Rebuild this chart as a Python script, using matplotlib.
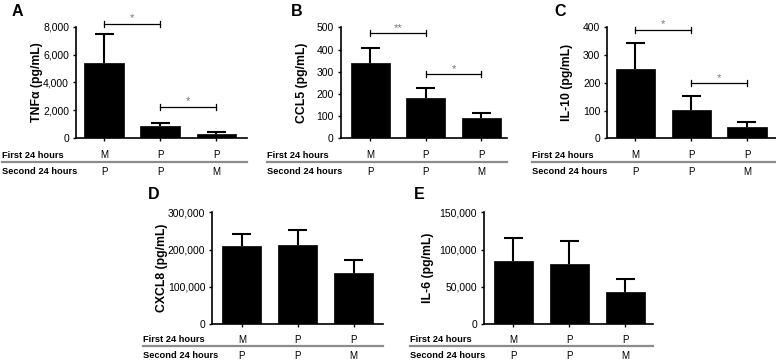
import matplotlib
matplotlib.use("Agg")
import matplotlib.pyplot as plt
from matplotlib.ticker import FuncFormatter
from matplotlib.transforms import blended_transform_factory, offset_copy

plt.rcParams['font.family'] = ['Liberation Sans', 'DejaVu Sans']

W, H = 776, 360

first_24 = ["M", "P", "P"]
second_24 = ["P", "P", "M"]

tnfa = [5370, 840, 310]
tnfa_err = [2100, 260, 100]
ccl5 = [339, 180, 93]
ccl5_err = [66, 48, 22]
il10 = [250, 102, 42]
il10_err = [95, 52, 17]
cxcl8 = [209500, 212000, 138000]
cxcl8_err = [31500, 41000, 34000]
il6 = [84600, 81000, 43400]
il6_err = [30400, 31000, 17000]

# brackets: (from bar, to bar, height, stars)
tnfa_sig = [(0, 1, 8200, "*"), (1, 2, 2250, "*")]
ccl5_sig = [(0, 1, 473, "**"), (1, 2, 288, "*")]
il10_sig = [(0, 1, 390, "*"), (1, 2, 198, "*")]

fig = plt.figure(figsize=(W / 100, H / 100), dpi=100)


def fx(px):
    return px / W


def fy(py):
    return 1 - py / H


def panel(letter, letter_xy, vals, errs, ymax, yticks, ylabel, ylabel_x,
          box, xlim, table_x, rows_y, sig=()):
    x0, x1, ytop, yzero = box
    ax = fig.add_axes([fx(x0), fy(yzero), (x1 - x0) / W, (yzero - ytop) / H])
    xs = list(range(len(vals)))
    ax.bar(xs, vals, width=0.7, color="black", edgecolor="black",
           linewidth=0.5, zorder=2)
    # upper error bars only
    cap = 0.17
    for i, v, e in zip(xs, vals, errs):
        ax.plot([i, i], [v, v + e], color="black", lw=1.5, zorder=1,
                solid_capstyle="butt")
        ax.plot([i - cap, i + cap], [v + e, v + e], color="black", lw=1.5,
                zorder=1, solid_capstyle="butt")
    ax.set_ylim(0, ymax)
    ax.set_xlim(*xlim)
    ax.set_yticks(yticks)
    ax.yaxis.set_major_formatter(FuncFormatter(lambda v, p: f"{int(v):,}"))
    ax.set_xticks(xs)
    ax.set_xticklabels([])
    ax.tick_params(axis="both", direction="out", length=2.5, width=1,
                   labelsize=7.5, pad=2.5)
    for s in ["top", "right"]:
        ax.spines[s].set_visible(False)
    for s in ["left", "bottom"]:
        ax.spines[s].set_linewidth(1.2)

    fig.text(fx(ylabel_x), fy((ytop + yzero) / 2), ylabel, rotation=90,
             ha="center", va="center", fontsize=8.8, fontweight="bold")
    fig.text(fx(letter_xy[0]), fy(letter_xy[1]), letter, ha="left", va="top",
             fontsize=11.5, fontweight="bold")

    # table below axis
    r1, line_y, r2 = rows_y
    tr = blended_transform_factory(ax.transData, fig.transFigure)
    fig.text(fx(table_x), fy(r1), "First 24 hours", ha="left", va="center",
             fontsize=6.7, fontweight="bold")
    fig.text(fx(table_x), fy(r2), "Second 24 hours", ha="left", va="center",
             fontsize=6.7, fontweight="bold")
    for i in xs:
        ax.text(i, fy(r1), first_24[i], transform=tr, ha="center",
                va="center", fontsize=7)
        ax.text(i, fy(r2), second_24[i], transform=tr, ha="center",
                va="center", fontsize=7)
    fig.add_artist(plt.Line2D([fx(table_x), fx(x1)], [fy(line_y), fy(line_y)],
                              color="#8c8c8c", linewidth=1.6,
                              transform=fig.transFigure))

    # significance brackets
    tick = ymax * 3.0 / (yzero - ytop)
    for a, b, h, stars in sig:
        ax.plot([a, b], [h, h], color="black", lw=0.9, clip_on=False)
        for e in (a, b):
            ax.plot([e, e], [h - tick, h + tick], color="black", lw=0.9,
                    clip_on=False)
        st = offset_copy(ax.transData, fig=fig, y=0.5, units="points")
        ax.text((a + b) / 2, h, stars, transform=st, ha="center",
                va="bottom", fontsize=8, color="#777777")
    return ax


panel("A", (12, 4), tnfa, tnfa_err, 8000, [0, 2000, 4000, 6000, 8000],
      "TNF\u03b1 (pg/mL)", 37, (76, 247, 26.7, 138), (-0.5, 2.55),
      2, (155, 161.7, 171.7), tnfa_sig)
panel("B", (291, 4), ccl5, ccl5_err, 500, [0, 100, 200, 300, 400, 500],
      "CCL5 (pg/mL)", 302, (340.7, 507, 27.3, 138.3), (-0.53, 2.46),
      267, (155, 161.7, 171.7), ccl5_sig)
panel("C", (554, 4), il10, il10_err, 400, [0, 100, 200, 300, 400],
      "IL-10 (pg/mL)", 567, (607.3, 776, 27.3, 138.3), (-0.5, 2.52),
      532, (155, 161.7, 171.7), il10_sig)
panel("D", (148, 187), cxcl8, cxcl8_err, 300000, [0, 100000, 200000, 300000],
      "CXCL8 (pg/mL)", 162, (212.3, 382.7, 212.3, 324), (-0.53, 2.52),
      143, (340, 346.3, 355.7))
panel("E", (414, 187), il6, il6_err, 150000, [0, 50000, 100000, 150000],
      "IL-6 (pg/mL)", 428, (484, 653.3, 212.3, 324), (-0.52, 2.5),
      410, (340, 346.3, 355.7))

fig.savefig("out.png", dpi=100)
